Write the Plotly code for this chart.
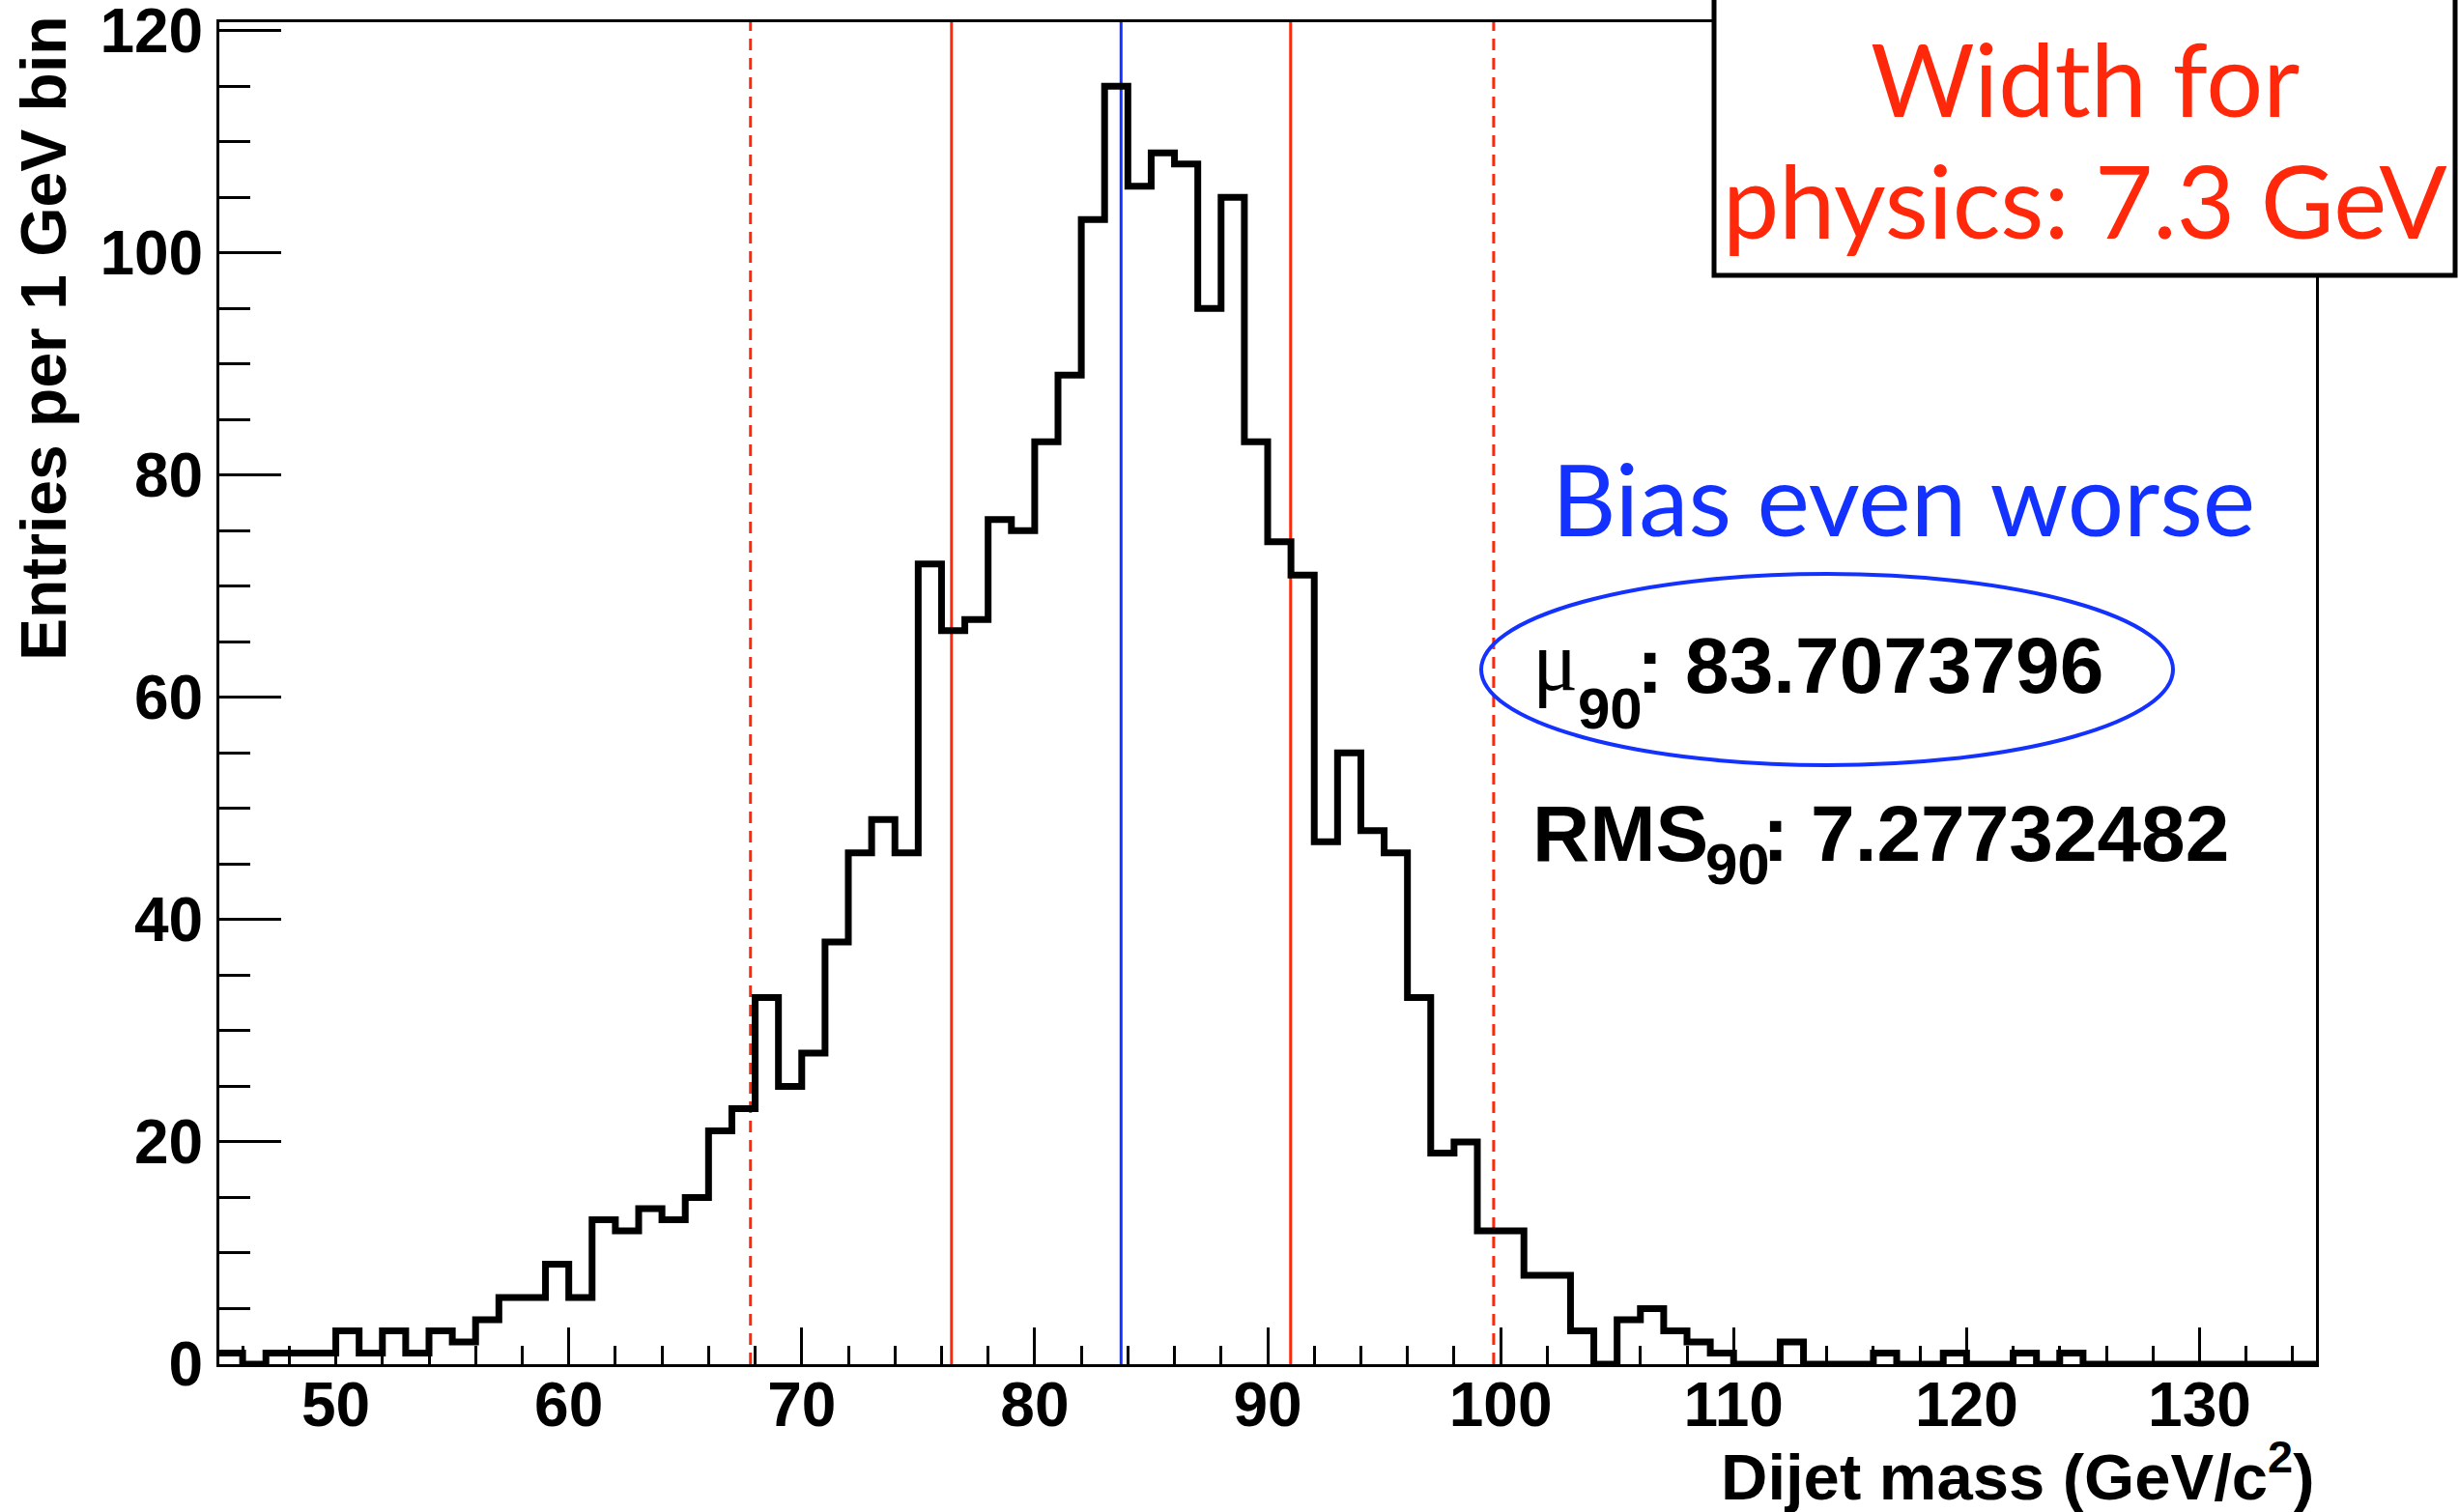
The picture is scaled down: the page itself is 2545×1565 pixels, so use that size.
import plotly.graph_objects as go

# ---------------- data ----------------
bin_low_edges = list(range(45, 135))  # 1 GeV bins, 45 .. 134
counts = [
    1, 0, 1, 1, 1,            # 45-49
    3, 1, 3, 1, 3, 2, 4, 6, 6, 9,        # 50-59
    6, 13, 12, 14, 13, 15, 21, 23, 33, 25,  # 60-69
    28, 38, 46, 49, 46, 72, 66, 67, 76, 75,  # 70-79
    83, 89, 103, 115, 106, 109, 108, 95, 105, 83,  # 80-89
    74, 71, 47, 55, 48, 46, 33, 19, 20, 12,  # 90-99
    12, 8, 8, 3, 0, 4, 5, 3, 2, 1,   # 100-109
    0, 0, 2, 0, 0, 0, 1, 0, 0, 1,    # 110-119
    0, 0, 1, 0, 1, 0, 0, 0, 0, 0,    # 120-129
    0, 0, 0, 0, 0,                   # 130-134
]
x_range = [45, 135]
y_range = [0, 120.75]

mu90 = 83.7073796
rms90 = 7.27732482
window_edges = [67.8, 99.7]          # dashed red lines
width_text_lines = ["Width for", "physics: 7.3 GeV"]
bias_text = "Bias even worse"

RED = "rgb(255,40,10)"
BLUE = "rgb(20,50,255)"

# ---------------- figure ----------------
W, H = 2545, 1565
L, R, T, B = 227, 148, 23, 153
PW, PH = W - L - R, H - T - B


def px(xpix):
    return (xpix - L) / PW


def py(ypix):
    return (H - B - ypix) / PH


edges = bin_low_edges + [bin_low_edges[-1] + 1]
yvals = counts + [counts[-1]]

fig = go.Figure()
fig.add_trace(go.Scatter(
    x=edges, y=yvals, mode="lines", line=dict(color="black", width=7, shape="hv"),
    hoverinfo="skip", showlegend=False))

shapes = []
for xv in [mu90 - rms90, mu90 + rms90]:
    shapes.append(dict(type="line", xref="x", yref="paper", x0=xv, x1=xv, y0=0, y1=1,
                       line=dict(color=RED, width=3), layer="below"))
for xv in window_edges:
    shapes.append(dict(type="line", xref="x", yref="paper", x0=xv, x1=xv, y0=0, y1=1,
                       line=dict(color=RED, width=3, dash="12px,8px"), layer="below"))
shapes.append(dict(type="line", xref="x", yref="paper", x0=mu90, x1=mu90, y0=0, y1=1,
                   line=dict(color=BLUE, width=3), layer="below"))

# box top right
shapes.append(dict(type="rect", xref="paper", yref="paper",
                   x0=px(1774), x1=px(2541), y0=py(285), y1=py(-10),
                   line=dict(color="black", width=5), fillcolor="white", layer="above"))
# ellipse
shapes.append(dict(type="circle", xref="paper", yref="paper",
                   x0=px(1533), x1=px(2249), y0=py(792), y1=py(594),
                   line=dict(color=BLUE, width=4), layer="above"))

BOLD = dict(family="Liberation Sans", color="black", weight="bold")
SUB = dict(family="Liberation Sans Narrow, Liberation Sans", color="black", weight="bold")


def ann(text, x, y, xanchor, font, **kw):
    d = dict(text=text, xref="paper", yref="paper", x=px(x), y=py(y),
             xanchor=xanchor, yanchor="middle", showarrow=False, font=font)
    d.update(kw)
    return d


annotations = [
    ann(width_text_lines[0], 2158, 80, "center", dict(family="Lato", size=104, color=RED)),
    ann(width_text_lines[1], 2158, 206, "center", dict(family="Lato", size=104, color=RED)),
    ann(bias_text, 1970, 515, "center", dict(family="Lato", size=103, color=BLUE)),
    # mu_90 line
    ann("\u03bc", 1584, 684, "left", dict(family="Liberation Serif", size=88, color="black")),
    ann("90", 1631, 733, "left", dict(SUB, size=60)),
    ann(": %.7f" % mu90, 1692, 688, "left", dict(BOLD, size=82)),
    # RMS_90 line
    ann("RMS", 1584, 862, "left", dict(BOLD, size=82)),
    ann("90", 1763, 894, "left", dict(SUB, size=60)),
    ann(": %.8f" % rms90, 1822, 862, "left", dict(BOLD, size=82)),
    # axis titles
    dict(text="Entries per 1 GeV bin", xref="paper", yref="paper", x=px(45), y=py(14),
         xanchor="center", yanchor="top", textangle=-90, showarrow=False,
         font=dict(BOLD, size=66)),
    dict(text="Dijet mass (GeV/c<sup>2</sup>)", xref="paper", yref="paper", x=1.0, y=py(1524),
         xanchor="right", yanchor="middle", showarrow=False,
         font=dict(BOLD, size=67)),
]

tickfont = dict(BOLD, size=64)

fig.update_layout(
    width=W, height=H,
    margin=dict(l=L, r=R, t=T, b=B, pad=0, autoexpand=False),
    paper_bgcolor="white", plot_bgcolor="white",
    showlegend=False,
    shapes=shapes, annotations=annotations,
    xaxis=dict(range=x_range, tickmode="linear", tick0=0, dtick=10, automargin=False,
               ticks="inside", ticklen=38, tickwidth=3, tickcolor="black",
               showline=True, linewidth=3, linecolor="black", mirror=True,
               showgrid=False, zeroline=False, tickfont=tickfont, ticklabelstandoff=-16,
               ticklabeloverflow="allow",
               minor=dict(ticks="inside", ticklen=19, tickwidth=3, tickcolor="black",
                          tick0=0, dtick=2, showgrid=False)),
    yaxis=dict(range=y_range, tickmode="linear", tick0=0, dtick=20, automargin=False,
               ticks="inside", ticklen=64, tickwidth=3, tickcolor="black",
               showline=True, linewidth=3, linecolor="black", mirror=True,
               showgrid=False, zeroline=False, tickfont=tickfont, ticklabelstandoff=1,
               ticklabeloverflow="allow",
               minor=dict(ticks="inside", ticklen=32, tickwidth=3, tickcolor="black",
                          tick0=0, dtick=5, showgrid=False)),
)

fig.write_html("out.html")
